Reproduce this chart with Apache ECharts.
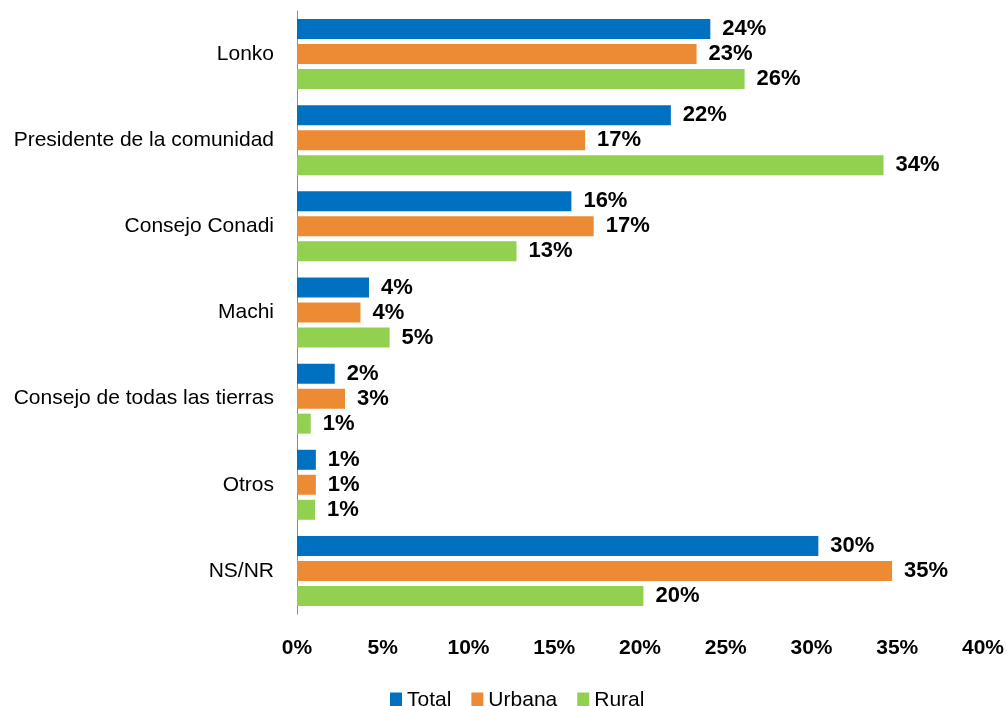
<!DOCTYPE html>
<html>
<head>
<meta charset="utf-8">
<script src="https://cdn.jsdelivr.net/npm/echarts@6/dist/echarts.min.js"></script>
<style>html,body{margin:0;padding:0;background:#fff}#c{width:1007px;height:706px}</style>
</head>
<body>
<div id="c"></div>
<script>
const categories = ['Lonko', 'Presidente de la comunidad', 'Consejo Conadi', 'Machi', 'Consejo de todas las tierras', 'Otros', 'NS/NR'];
const totalValues = [24.1, 21.8, 16.0, 4.2, 2.2, 1.1, 30.4];
const urbanaValues = [23.3, 16.8, 17.3, 3.7, 2.8, 1.1, 34.7];
const ruralValues = [26.1, 34.2, 12.8, 5.4, 0.8, 1.05, 20.2];
const xTicks = [0, 5, 10, 15, 20, 25, 30, 35, 40];

const chart = echarts.init(document.getElementById('c'));
const labelFont = 'Liberation Sans';
function mk(name, data, color) {
  return {
    name: name, type: 'bar', data: data, barWidth: 20, barGap: '25%',
    itemStyle: { color: color },
    label: {
      show: true, position: 'right', distance: 12,
      formatter: p => Math.round(p.value) + '%',
      fontFamily: labelFont, fontWeight: 'bold', fontSize: 22, color: '#000'
    }
  };
}
chart.setOption({
  animation: false,
  grid: { left: 297, right: 24, top: 11, bottom: 92, containLabel: false },
  legend: {
    top: 685, left: 385, itemWidth: 12, itemHeight: 16, itemGap: 20,
    icon: 'rect',
    textStyle: { fontFamily: labelFont, fontSize: 21, color: '#000' },
    data: ['Total', 'Urbana', 'Rural']
  },
  xAxis: {
    type: 'value', min: xTicks[0], max: xTicks[xTicks.length - 1], interval: 5,
    axisLine: { show: false }, axisTick: { show: false }, splitLine: { show: false },
    axisLabel: { formatter: v => v + '%', margin: 24, fontFamily: labelFont, fontWeight: 'bold', fontSize: 21, color: '#000' }
  },
  yAxis: {
    type: 'category', data: categories, inverse: true,
    axisLine: { show: true, lineStyle: { color: '#8c8c8c', width: 1 } },
    axisTick: { show: false },
    axisLabel: { margin: 23, fontFamily: labelFont, fontSize: 21, color: '#000' }
  },
  series: [
    mk('Total', totalValues, '#0070C0'),
    mk('Urbana', urbanaValues, '#ED8B34'),
    mk('Rural', ruralValues, '#92D050')
  ]
});
</script>
</body>
</html>
